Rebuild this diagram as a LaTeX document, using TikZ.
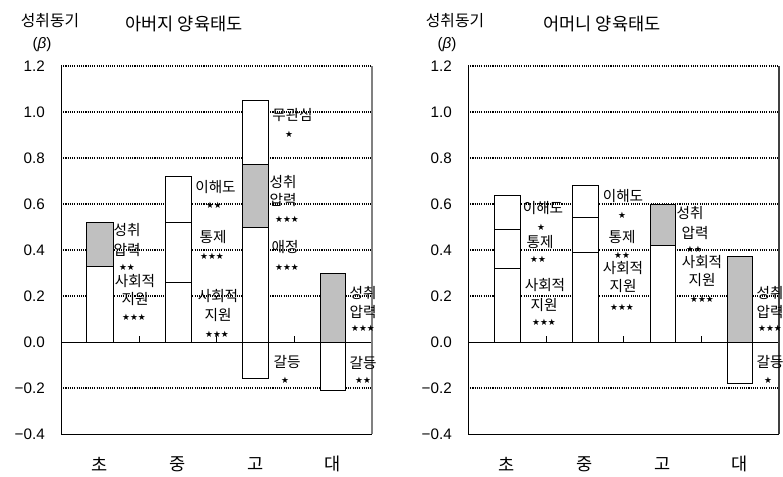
\documentclass[tikz,border=0pt]{standalone}
\usepackage{fontspec}
\setmainfont{Liberation Sans}
\newfontfamily\kr{Noto Sans CJK KR}
\newfontfamily\dvs{DejaVu Sans}
\usepackage{tikz}
\definecolor{barfill}{RGB}{192,192,192}
\tikzset{
  lbl/.style={font=\kr\fontsize{12.5}{14}\selectfont, inner sep=0pt},
  stars/.style={font=\dvs\fontsize{7.5}{8}\selectfont, inner sep=0pt},
  ylbl/.style={font=\fontsize{13}{15}\selectfont, anchor=east, inner sep=0pt},
  xlbl/.style={font=\kr\fontsize{15}{17}\selectfont, inner sep=0pt},
  ttl/.style={font=\kr\fontsize{13.5}{16}\selectfont, inner sep=0pt},
  bigttl/.style={font=\kr\fontsize{15}{17}\selectfont, inner sep=0pt},
  gridline/.style={densely dotted, line width=0.9pt},
  barw/.style={draw=black, fill=white, line width=0.8pt},
  barg/.style={draw=black, fill=barfill, line width=0.8pt},
}

\begin{document}
\begin{tikzpicture}[x=0.03cm, y=0.03cm, line cap=butt]
\useasboundingbox (0,0) rectangle (783,477);

% 아버지 양육태도
\begin{scope}[shift={(0,135)}, y=6.9cm]
  \draw [gridline] (61,1.2) -- (372,1.2);
  \draw [gridline] (61,1.0) -- (372,1.0);
  \draw [gridline] (61,0.8) -- (372,0.8);
  \draw [gridline] (61,0.6) -- (372,0.6);
  \draw [gridline] (61,0.4) -- (372,0.4);
  \draw [gridline] (61,0.2) -- (372,0.2);
  \draw [gridline] (61,-0.2) -- (372,-0.2);

  \draw [barw] (86.7,0) rectangle (113.3,0.33);
  \draw [barg] (86.7,0.33) rectangle (113.3,0.52);

  \draw [barw] (165,0) rectangle (191,0.26);
  \draw [barw] (165,0.26) rectangle (191,0.52);
  \draw [barw] (165,0.52) rectangle (191,0.72);

  \draw [barw] (242.7,-0.16) rectangle (268.3,0);
  \draw [barw] (242.7,0) rectangle (268.3,0.50);
  \draw [barg] (242.7,0.50) rectangle (268.3,0.77);
  \draw [barw] (242.7,0.77) rectangle (268.3,1.05);

  \draw [barw] (320,-0.21) rectangle (345.7,0);
  \draw [barg] (320,0) rectangle (345.7,0.30);

  \draw [thin] (61,0) -- (372,0);
  \draw [thin] (138.75,0) -- (138.75,0.026);
  \draw [thin] (216.5,0) -- (216.5,0.026);
  \draw [thin] (294.25,0) -- (294.25,0.026);

  \draw [thin] (61,-0.4) -- (61,1.2);
  \draw [thin] (61,-0.4) -- (372,-0.4);
  \draw [gray, line width=0.9pt] (372,-0.4) -- (372,1.2);
\end{scope}

% 어머니 양육태도
\begin{scope}[shift={(0,135)}, y=6.9cm]
  \draw [gridline] (468,1.2) -- (779,1.2);
  \draw [gridline] (468,1.0) -- (779,1.0);
  \draw [gridline] (468,0.8) -- (779,0.8);
  \draw [gridline] (468,0.6) -- (779,0.6);
  \draw [gridline] (468,0.4) -- (779,0.4);
  \draw [gridline] (468,0.2) -- (779,0.2);
  \draw [gridline] (468,-0.2) -- (779,-0.2);

  \draw [barw] (494.3,0) rectangle (520.7,0.32);
  \draw [barw] (494.3,0.32) rectangle (520.7,0.49);
  \draw [barw] (494.3,0.49) rectangle (520.7,0.635);

  \draw [barw] (572.3,0) rectangle (598.7,0.39);
  \draw [barw] (572.3,0.39) rectangle (598.7,0.54);
  \draw [barw] (572.3,0.54) rectangle (598.7,0.68);

  \draw [barw] (650,0) rectangle (675.3,0.42);
  \draw [barg] (650,0.42) rectangle (675.3,0.60);

  \draw [barw] (727.3,-0.18) rectangle (752.7,0);
  \draw [barg] (727.3,0) rectangle (752.7,0.37);

  \draw [thin] (468,0) -- (779,0);
  \draw [thin] (545.75,0) -- (545.75,0.026);
  \draw [thin] (623.5,0) -- (623.5,0.026);
  \draw [thin] (701.25,0) -- (701.25,0.026);

  \draw [thin] (468,-0.4) -- (468,1.2);
  \draw [thin] (468,-0.4) -- (779,-0.4);
  \draw [black!75, line width=0.9pt] (779,-0.4) -- (779,1.2);
\end{scope}

% titles
\node [ttl] (fbeta-t) at (50,456) {성취동기};
\node [font=\fontsize{13}{15}\selectfont, inner sep=0pt] (fbeta) at (42,432) {(\textit{β})};
\node [bigttl] (ftitle) at (184,453) {아버지 양육태도};
\node [ttl] (mbeta-t) at (455,456) {성취동기};
\node [font=\fontsize{13}{15}\selectfont, inner sep=0pt] (mbeta) at (447,432) {(\textit{β})};
\node [bigttl] (mtitle) at (602,453) {어머니 양육태도};

% y labels
\node [ylbl] (fy12) at (45,411) {1.2};
\node [ylbl] (fy10) at (45,365) {1.0};
\node [ylbl] (fy08) at (45,319) {0.8};
\node [ylbl] (fy06) at (45,273) {0.6};
\node [ylbl] (fy04) at (45,227) {0.4};
\node [ylbl] (fy02) at (45,181) {0.2};
\node [ylbl] (fy00) at (45,135) {0.0};
\node [ylbl] (fym02) at (45,89) {−0.2};
\node [ylbl] (fym04) at (45,43) {−0.4};
\node [ylbl] (my12) at (452,411) {1.2};
\node [ylbl] (my10) at (452,365) {1.0};
\node [ylbl] (my08) at (452,319) {0.8};
\node [ylbl] (my06) at (452,273) {0.6};
\node [ylbl] (my04) at (452,227) {0.4};
\node [ylbl] (my02) at (452,181) {0.2};
\node [ylbl] (my00) at (452,135) {0.0};
\node [ylbl] (mym02) at (452,89) {−0.2};
\node [ylbl] (mym04) at (452,43) {−0.4};

% x labels
\node [xlbl] (fx1) at (100,13) {초};
\node [xlbl] (fx2) at (178,13) {중};
\node [xlbl] (fx3) at (256,13) {고};
\node [xlbl] (fx4) at (333,13) {대};
\node [xlbl] (mx1) at (507,13) {초};
\node [xlbl] (mx2) at (585,13) {중};
\node [xlbl] (mx3) at (663,13) {고};
\node [xlbl] (mx4) at (740,13) {대};

% 아버지: 초
\node [lbl] (f1a) at (127,247) {성취};
\node [lbl] (f1b) at (127,227) {압력};
\node [stars] (f1c) at (127,210) {★★};
\node [lbl] (f1d) at (135,196) {사회적};
\node [lbl] (f1e) at (135,178) {지원};
\node [stars] (f1f) at (134,160) {★★★};
% 아버지: 중
\node [lbl] (f2a) at (215.5,290) {이해도};
\node [stars] (f2b) at (214,272) {★★};
\node [lbl] (f2c) at (213,240) {통제};
\node [stars] (f2d) at (212,221) {★★★};
\node [lbl] (f2e) at (218,181) {사회적};
\node [lbl] (f2f) at (218,162) {지원};
\node [stars] (f2g) at (217,143) {★★★};
% 아버지: 고
\node [lbl] (f3a) at (292.5,362) {무관심};
\node [stars] (f3b) at (289,343) {★};
\node [lbl] (f3c) at (283,295) {성취};
\node [lbl] (f3d) at (283,277) {압력};
\node [stars] (f3e) at (287,258) {★★★};
\node [lbl] (f3f) at (285,230) {애정};
\node [stars] (f3g) at (287,210) {★★★};
\node [lbl] (f3h) at (287,115) {갈등};
\node [stars] (f3i) at (285,97) {★};
% 아버지: 대
\node [lbl] (f4a) at (363,184) {성취};
\node [lbl] (f4b) at (363,165) {압력};
\node [stars] (f4c) at (363,149) {★★★};
\node [lbl] (f4d) at (363,114) {갈등};
\node [stars] (f4e) at (363,97) {★★};

% 어머니: 초
\node [lbl] (m1a) at (543,269) {이해도};
\node [stars] (m1b) at (541,250) {★};
\node [lbl] (m1c) at (540,235) {통제};
\node [stars] (m1d) at (538,218) {★★};
\node [lbl] (m1e) at (545,192) {사회적};
\node [lbl] (m1f) at (544,172) {지원};
\node [stars] (m1g) at (544,155) {★★★};
% 어머니: 중
\node [lbl] (m2a) at (623,281) {이해도};
\node [stars] (m2b) at (622,262) {★};
\node [lbl] (m2c) at (622,240) {통제};
\node [stars] (m2d) at (622,222) {★★};
\node [lbl] (m2e) at (623,209) {사회적};
\node [lbl] (m2f) at (623,191) {지원};
\node [stars] (m2g) at (622,170) {★★★};
% 어머니: 고
\node [lbl] (m3a) at (690,264) {성취};
\node [lbl] (m3b) at (695,244) {압력};
\node [stars] (m3c) at (694,228) {★★};
\node [lbl] (m3d) at (702,215) {사회적};
\node [lbl] (m3e) at (702,197) {지원};
\node [stars] (m3f) at (702,178) {★★★};
% 어머니: 대
\node [lbl] (m4a) at (770,184) {성취};
\node [lbl] (m4b) at (770,165) {압력};
\node [stars] (m4c) at (770,149) {★★★};
\node [lbl] (m4d) at (770,115) {갈등};
\node [stars] (m4e) at (768,97) {★};

\end{tikzpicture}
\end{document}
